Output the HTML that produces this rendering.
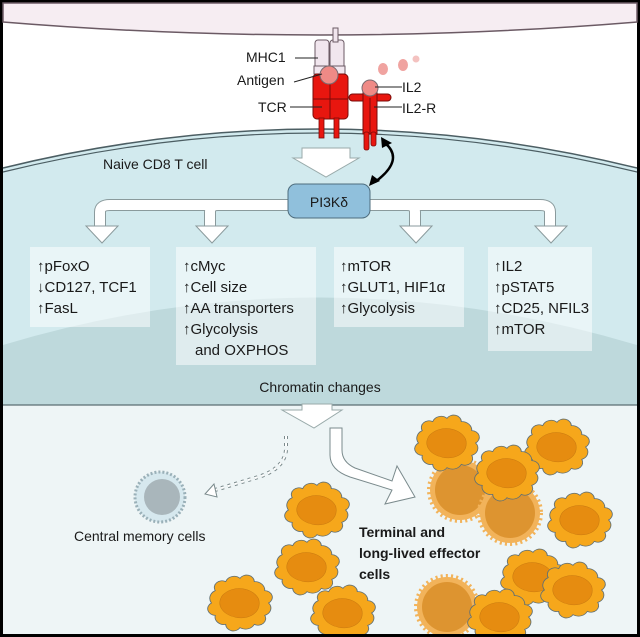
<!DOCTYPE html>
<html><head><style>
html,body{margin:0;padding:0;background:#fff}
svg{display:block}
text{font-family:"Liberation Sans",Arial,sans-serif;fill:#1a1a1a}
</style></head><body>
<svg width="640" height="637" viewBox="0 0 640 637" xmlns="http://www.w3.org/2000/svg">
<defs>
<g id="eff">
 <path d="M26,0 A8 8 0 0 1 22.5,13 A7 7 0 0 1 13,22.5 A9 9 0 0 1 0,26 A7 7 0 0 1 -13,22.5 A8 8 0 0 1 -22.5,13 A7 7 0 0 1 -26,0 A9 9 0 0 1 -22.5,-13 A7 7 0 0 1 -13,-22.5 A8 8 0 0 1 0,-26 A7 7 0 0 1 13,-22.5 A9 9 0 0 1 22.5,-13 A7 7 0 0 1 26,0Z" fill="#f6a71b" stroke="#5f6f75" stroke-width="0.8"/>
 <path d="M-16,-8 C-6,-20 12,-16 17,-4 C20,10 8,18 -4,15 C-16,12 -22,2 -16,-8Z" fill="#e68c10" stroke="#c97a10" stroke-width=".5"/>
</g>
<g id="fad">
 <circle r="30" fill="#f2b35a" stroke="#f2b35a" stroke-width="6" stroke-dasharray="2 3"/>
 <circle r="25" fill="#dd9430"/>
</g>
</defs>
<rect x="0" y="0" width="640" height="637" fill="#000"/>
<rect x="3" y="3" width="634" height="631" fill="#fff"/>
<path d="M3,3 H637 V22 Q320,48 3,22Z" fill="#f6edf2" stroke="#6b5a64" stroke-width="1.5"/>
<path d="M3,168 Q320,90 637,168 V405 H3Z" fill="#d2eaee"/>
<path d="M3,168 Q320,90 637,168" fill="none" stroke="#4c5e63" stroke-width="1.5"/>
<path d="M3,172 Q320,94 637,172" fill="none" stroke="#4c5e63" stroke-width="1.2"/>
<path d="M3,345 Q320,250 637,345 V405 H3Z" fill="#bed9dc"/>
<rect x="3" y="405" width="634" height="229" fill="#eef5f6"/>
<line x1="3" y1="405" x2="637" y2="405" stroke="#5b6e72" stroke-width="1.2"/>

<rect x="315" y="40" width="14" height="28" rx="3" fill="#f1e6ee" stroke="#6b5a64"/>
<rect x="330" y="40" width="14" height="28" rx="3" fill="#f1e6ee" stroke="#6b5a64"/>
<rect x="333" y="28" width="5" height="14" fill="#f1e6ee" stroke="#6b5a64"/>
<rect x="314" y="66" width="31" height="8" fill="#f1e6ee" stroke="#6b5a64"/>
<rect x="313" y="74" width="35" height="45" rx="4" fill="#e8160f" stroke="#7a0b08"/>
<line x1="313" y1="99" x2="348" y2="99" stroke="#7a0b08"/>
<line x1="330" y1="80" x2="330" y2="119" stroke="#7a0b08"/>
<rect x="319" y="118" width="5" height="20" fill="#e8160f" stroke="#7a0b08" stroke-width=".8"/>
<rect x="334" y="118" width="5" height="20" fill="#e8160f" stroke="#7a0b08" stroke-width=".8"/>
<circle cx="329" cy="75" r="9" fill="#ef8a86" stroke="#7a6a70"/>
<rect x="349" y="94" width="42" height="7" rx="3.5" fill="#e8160f" stroke="#7a0b08"/>
<rect x="363" y="90" width="14" height="44" fill="#e8160f" stroke="#7a0b08"/>
<line x1="370" y1="98" x2="370" y2="134" stroke="#7a0b08"/>
<rect x="364" y="132" width="5" height="18" rx="2" fill="#e8160f" stroke="#7a0b08" stroke-width=".8"/>
<rect x="371" y="132" width="5" height="14" rx="2" fill="#e8160f" stroke="#7a0b08" stroke-width=".8"/>
<circle cx="370" cy="88" r="8" fill="#ef8a86" stroke="#7a6a70"/>
<ellipse cx="383" cy="69" rx="5" ry="6" fill="#f0a3a0"/>
<ellipse cx="403" cy="65" rx="5" ry="6" fill="#f0a3a0"/>
<circle cx="416" cy="59" r="3.5" fill="#f4c2c0"/>
<g font-size="14">
<text x="246" y="62">MHC1</text><line x1="295" y1="58" x2="318" y2="58" stroke="#222"/>
<text x="237" y="85">Antigen</text><line x1="294" y1="82" x2="322" y2="74" stroke="#222"/>
<text x="258" y="112">TCR</text><line x1="290" y1="107" x2="322" y2="107" stroke="#222"/>
<text x="402" y="92">IL2</text><line x1="375" y1="87" x2="402" y2="87" stroke="#222"/>
<text x="402" y="113">IL2-R</text><line x1="374" y1="107" x2="402" y2="107" stroke="#222"/>
<text x="103" y="169">Naive CD8 T cell</text>
</g>
<path d="M302,148 H350 V158 H359 L326,177 L293,158 H302Z" fill="#fff" stroke="#9aa" stroke-width="1"/>
<path d="M385,143 Q405,160 375,182" fill="none" stroke="#000" stroke-width="2.5"/>
<path d="M381,137 L392,143 L382,148Z" fill="#000"/>
<path d="M369,186 L372,175 L380,181Z" fill="#000"/>
<g fill="none" stroke-linejoin="round">
<path d="M100,228 V212 Q100,205 110,205 H540 Q550,205 550,212 V228 M210,228 V212 Q210,205 218,205 M415,228 V212 Q415,205 407,205" stroke="#8a9a9c" stroke-width="12"/>
<path d="M100,230 V212 Q100,205 110,205 H540 Q550,205 550,212 V230 M210,230 V212 Q210,205 218,205 M415,230 V212 Q415,205 407,205" stroke="#fff" stroke-width="10"/>
</g>
<g fill="#fff" stroke="#8a9a9c">
<path d="M86,226 H118 L102,243Z"/>
<path d="M196,226 H228 L212,243Z"/>
<path d="M400,226 H432 L416,243Z"/>
<path d="M535,226 H567 L551,243Z"/>
</g>
<rect x="288" y="184" width="82" height="34" rx="8" fill="#90c0dc" stroke="#4e6d7e"/>
<text x="329" y="207" font-size="14" text-anchor="middle">PI3Kδ</text>
<g fill="#fff" fill-opacity="0.5">
<rect x="30" y="247" width="120" height="80"/>
<rect x="176" y="247" width="140" height="118"/>
<rect x="334" y="247" width="130" height="80"/>
<rect x="488" y="247" width="104" height="104"/>
</g>
<g font-size="15">
<text x="37" y="271">↑pFoxO</text>
<text x="37" y="292">↓CD127, TCF1</text>
<text x="37" y="313">↑FasL</text>
<text x="183" y="271">↑cMyc</text>
<text x="183" y="292">↑Cell size</text>
<text x="183" y="313">↑AA transporters</text>
<text x="183" y="334">↑Glycolysis</text>
<text x="195" y="355">and OXPHOS</text>
<text x="340" y="271">↑mTOR</text>
<text x="340" y="292">↑GLUT1, HIF1α</text>
<text x="340" y="313">↑Glycolysis</text>
<text x="494" y="271">↑IL2</text>
<text x="494" y="292">↑pSTAT5</text>
<text x="494" y="313">↑CD25, NFIL3</text>
<text x="494" y="334">↑mTOR</text>
<text x="320" y="392" text-anchor="middle" font-size="14">Chromatin changes</text>
</g>
<path d="M302,404 H332 V410 H342 L314,428 L282,410 H302Z" fill="#fff" stroke="#9aa"/>
<path d="M330,428 V455 Q330,470 350,477 L392,490 L385,504 L415,497 L397,466 L392,481 L355,468 Q342,462 342,450 V428Z" fill="#fff" stroke="#7a8a8c"/>
<path d="M286,436 V450 Q284,470 255,478 L215,490" fill="none" stroke="#7a8a8c" stroke-width="4" stroke-dasharray="3 4"/>
<path d="M286,436 V450 Q284,470 255,478 L215,490" fill="none" stroke="#fff" stroke-width="2" stroke-dasharray="3 4"/>
<path d="M214,484 L205,494 L217,497Z" fill="#fff" stroke="#7a8a8c"/>
<circle cx="160" cy="497" r="25" fill="#d6e8ee" stroke="#9ab0b8" stroke-width="3" stroke-dasharray="2 2"/>
<circle cx="162" cy="497" r="18" fill="#a9b6bb"/>
<text x="74" y="541" font-size="14">Central memory cells</text>
<use href="#fad" x="460" y="490"/>
<use href="#fad" x="510" y="513"/>
<use href="#fad" x="447" y="607"/>
<use href="#eff" transform="translate(447,443) scale(1.1,0.95)"/>
<use href="#eff" transform="translate(557,447) scale(1.1,0.95)"/>
<use href="#eff" transform="translate(507,473) scale(1.1,0.95)"/>
<use href="#eff" transform="translate(580,520) scale(1.1,0.95)"/>
<use href="#eff" transform="translate(317,510) scale(1.1,0.95)"/>
<use href="#eff" transform="translate(307,567) scale(1.1,0.95)"/>
<use href="#eff" transform="translate(240,603) scale(1.1,0.95)"/>
<use href="#eff" transform="translate(343,613) scale(1.1,0.95)"/>
<use href="#eff" transform="translate(533,577) scale(1.1,0.95)"/>
<use href="#eff" transform="translate(573,590) scale(1.1,0.95)"/>
<use href="#eff" transform="translate(500,617) scale(1.1,0.95)"/>
<g font-size="14" font-weight="bold">
<text x="359" y="537">Terminal and</text>
<text x="359" y="558">long-lived effector</text>
<text x="359" y="579">cells</text>
</g>
<rect x="0" y="634" width="640" height="3" fill="#000"/>
</svg>
</body></html>
